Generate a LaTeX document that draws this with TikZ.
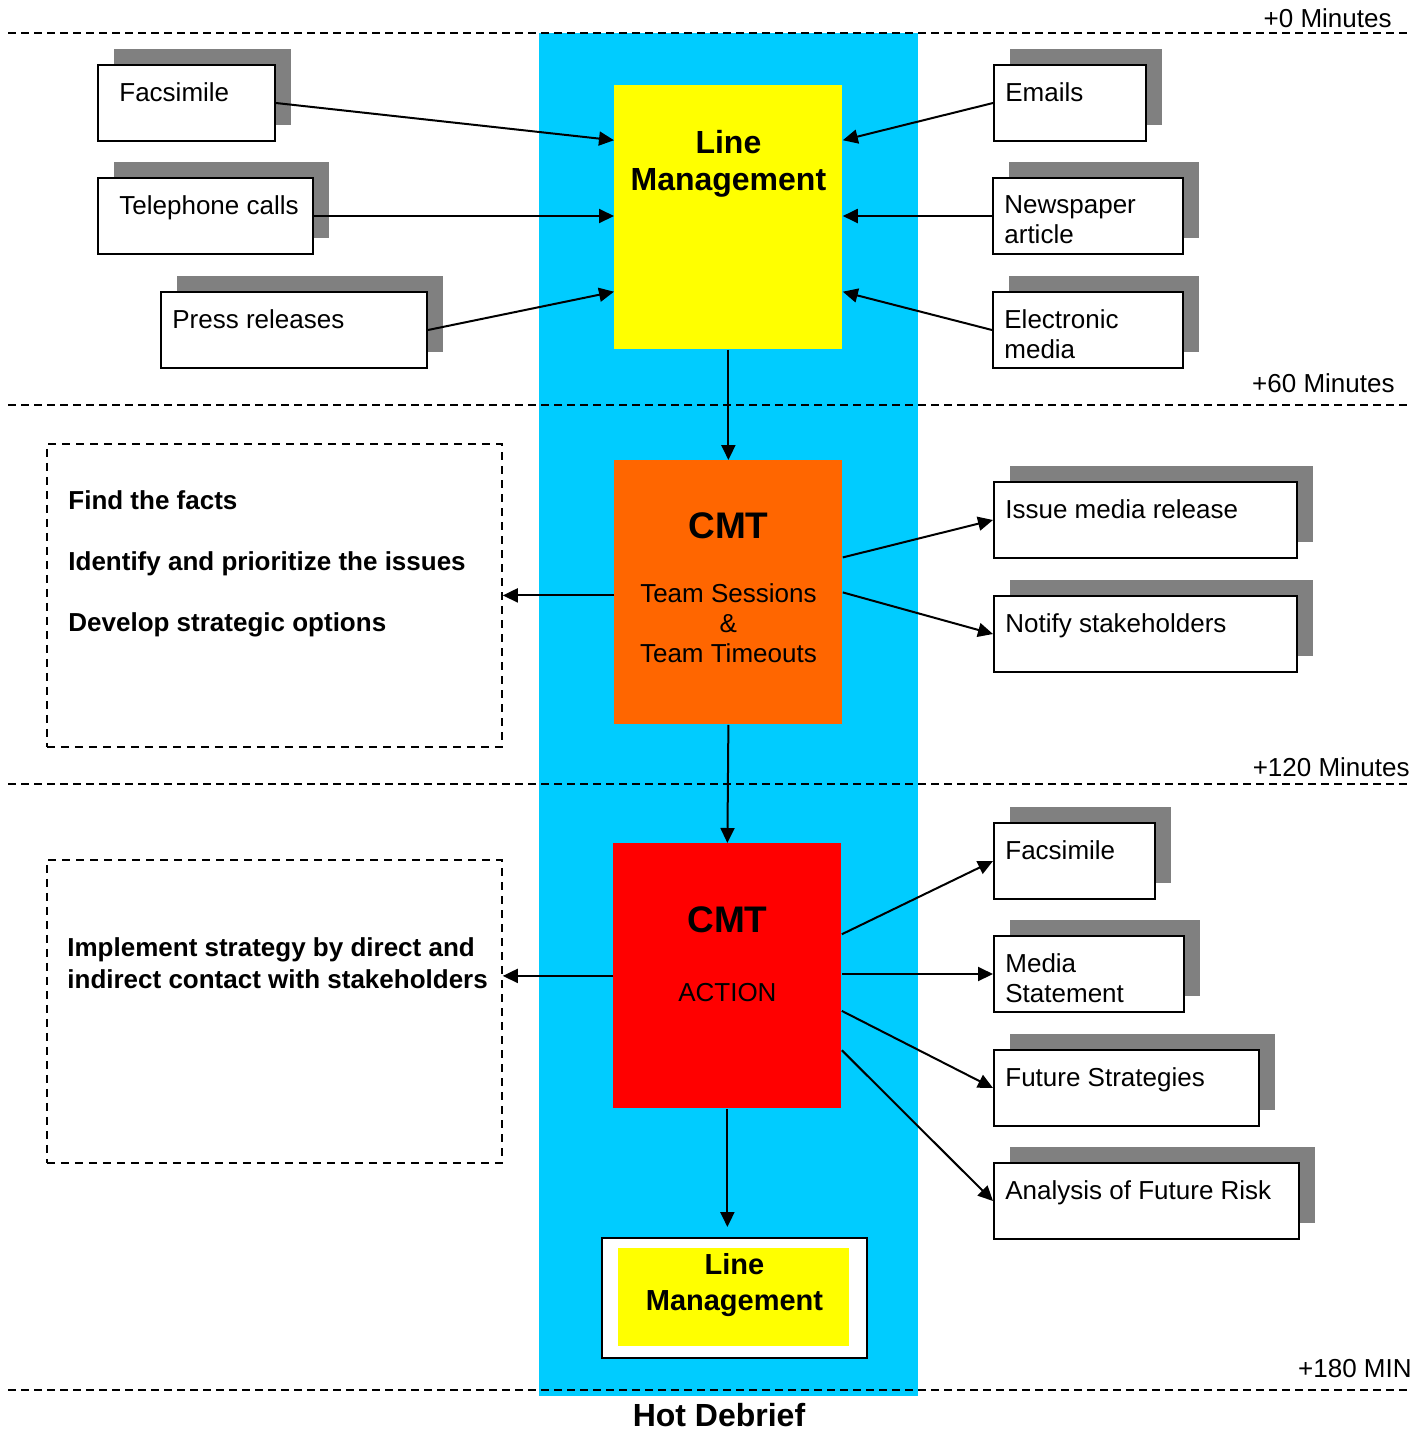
\documentclass[tikz,border=0pt]{standalone}
\usepackage{fontspec}
\setmainfont{Liberation Sans}
\usetikzlibrary{arrows.meta,shadows}

\definecolor{band}{HTML}{00CCFF}
\definecolor{lmyellow}{HTML}{FFFF00}
\definecolor{cmtorange}{HTML}{FF6600}
\definecolor{actred}{HTML}{FF0000}
\definecolor{shade}{HTML}{808080}

\begin{document}
\begin{tikzpicture}[x=0.5pt, y=-0.5pt, >={Triangle[length=7.5pt,width=7pt]},
    font=\fontsize{13}{15.6}\selectfont]
  \tikzstyle{card}=[draw, line width=1pt, fill=white, anchor=north west,
    minimum height=38pt, inner sep=0pt,
    drop shadow={shadow xshift=8pt, shadow yshift=8pt, fill=shade, opacity=1}]
  \tikzstyle{cardtext}=[anchor=north west, inner sep=0pt, align=left]
  \tikzstyle{stage}=[anchor=north west, minimum width=114pt, inner sep=0pt]
  \tikzstyle{headline}=[anchor=north, inner sep=0pt, align=center]
  \tikzstyle{frame}=[draw, line width=0.9pt, dash pattern=on 4pt off 3pt,
    anchor=north west, minimum width=227.5pt, minimum height=151.5pt, inner sep=0pt]
  \tikzstyle{timeline}=[line width=1pt, dash pattern=on 4pt off 2.5pt]
  \tikzstyle{feed}=[->, line width=1pt]

  \useasboundingbox (0,0) rectangle (1424,1431);

  % timeline column
  \fill[band] (539,33) rectangle (918,1396);
  \foreach \y in {33, 405, 784, 1390}
  {
    \draw[timeline] (8,\y) -- (1410,\y);
  }
  \path (1392,27) node[anchor=base east, inner sep=0pt] (t0) {+0 Minutes};
  \path (1395,392) node[anchor=base east, inner sep=0pt] (t60) {+60 Minutes};
  \path (1410,776) node[anchor=base east, inner sep=0pt] (t120) {+120 Minutes};
  \path (1412,1377) node[anchor=base east, inner sep=0pt] (t180) {+180 MIN};

  % stages
  \path (614,85) node[stage, fill=lmyellow, minimum height=132pt] (lm) {};
  \path (lm.north) ++(0,45) node[headline, font=\bfseries\fontsize{16}{18.5}\selectfont]
    (lmtext) {Line\\Management};

  \path (614,460) node[stage, fill=cmtorange, minimum height=132pt] (cmt) {};
  \path (cmt.north) ++(0,78) node[headline, anchor=base, font=\bfseries\fontsize{18.5}{22}\selectfont]
    (cmttext) {CMT};
  \path (cmt.north) ++(0,123) node[headline, font=\fontsize{13}{15}\selectfont]
    (cmtsub) {Team Sessions\\\&\\Team Timeouts};

  \path (613,843) node[stage, fill=actred, minimum height=132.5pt] (act) {};
  \path (act.north) ++(0,89) node[headline, anchor=base, font=\bfseries\fontsize{18.5}{22}\selectfont]
    (acttext) {CMT};
  \path (act.north) ++(0,158) node[headline, anchor=base] (actsub) {ACTION};

  \path (601,1237) node[draw, line width=1pt, fill=white, anchor=north west,
    minimum width=132.5pt, minimum height=60pt, inner sep=0pt] (debrief) {};
  \path (618,1248) node[fill=lmyellow, anchor=north west, minimum width=115.5pt,
    minimum height=49pt, inner sep=0pt] (debriefin) {};
  \path (debrief.north) ++(0,16) node[headline, font=\bfseries\fontsize{14.5}{18}\selectfont]
    (debrieftext) {Line\\Management};
  \path (719,1426) node[headline, anchor=base, font=\bfseries\fontsize{16}{19}\selectfont]
    (hot) {Hot Debrief};

  % inputs and outputs
  \foreach \name/\x/\y/\w/\dx/\txt in {
    fax/97/64/88.5/22/Facsimile,
    phone/97/177/107.5/22/Telephone calls,
    press/160/291/133/12/Press releases,
    emails/993/64/76/12/Emails,
    paper/992/177/95/12/{Newspaper\\article},
    tv/992/291/95/12/{Electronic\\media},
    release/993/481/151.5/12/Issue media release,
    notify/993/595/151.5/12/Notify stakeholders,
    faxout/993/822/80.5/12/Facsimile,
    statement/993/935/95/12/{Media\\Statement},
    future/993/1049/132.5/12/Future Strategies,
    risk/993/1162/152.5/12/Analysis of Future Risk}
  {
    \path (\x,\y) node[card, minimum width=\w pt] (\name) {};
    \path (\name.north west) ++(\dx,18.5) node[cardtext, font=\fontsize{13}{15}\selectfont]
      (\name text) {\txt};
  }

  % tasks
  \path (46,443) node[frame] (plan) {};
  \path (plan.north west) ++(22,47) node[cardtext, font=\bfseries\fontsize{13}{15.6}\selectfont]
    (plantext) {Find the facts\\[15pt]Identify and prioritize the issues\\[15pt]Develop strategic options};
  \path (46,859) node[frame] (deploy) {};
  \path (deploy.north west) ++(21,78) node[cardtext, font=\bfseries\fontsize{13}{16}\selectfont]
    (deploytext) {Implement strategy by direct and\\indirect contact with stakeholders};

  % connectors
  \foreach \a/\b in {fax.east/lm.146, phone.east/phone.east -| lm.west, press.east/lm.213,
    emails.west/lm.34, paper.west/paper.west -| lm.east, tv.west/lm.-33}
  {
    \draw[feed] (\a) -- (\b);
  }

  \foreach \a/\b in {lm.south/cmt.north, plan.east -| cmt.west/plan.east,
    cmt.17/release.west, cmt.east/notify.west, cmt.south/act.north}
  {
    \draw[feed] (\a) -- (\b);
  }

  \foreach \a/\b in {act.west/act.west -| deploy.east, act.20/faxout.west,
    statement.west -| act.east/statement.west, act.-17/future.west, act.-33/risk.west}
  {
    \draw[feed] (\a) -- (\b);
  }

  \draw[feed, shorten >=5pt] (act.south) -- (act.south |- debrief.north);
\end{tikzpicture}
\end{document}
